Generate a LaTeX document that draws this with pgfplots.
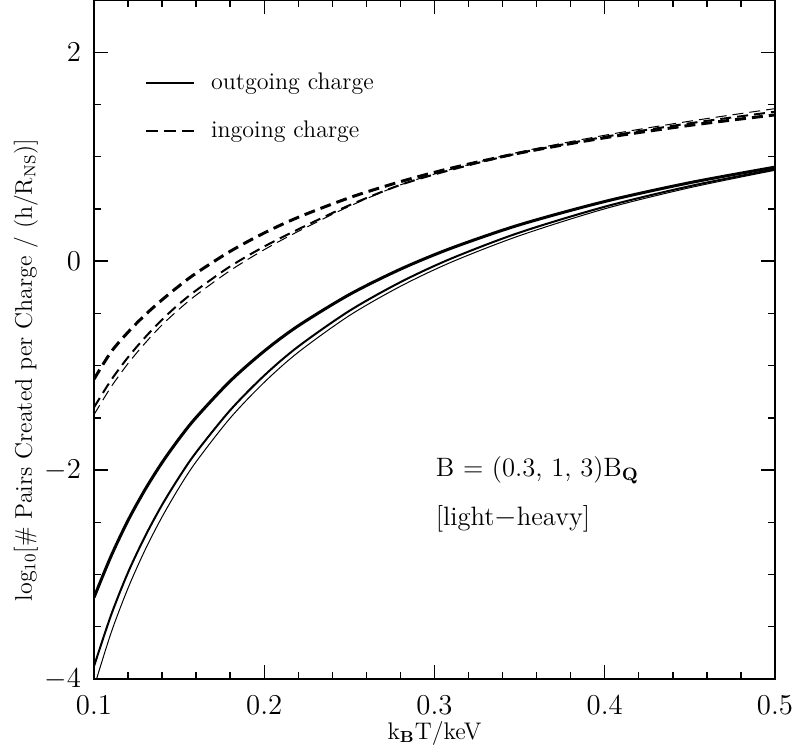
\documentclass[border=0pt]{standalone}
\usepackage{pgfplots}
\pgfplotsset{compat=1.18}
\pgfplotstableread{
x y
0.10 -3.220
0.11 -2.825
0.12 -2.482
0.13 -2.187
0.14 -1.928
0.15 -1.700
0.16 -1.496
0.18 -1.148
0.20 -0.861
0.22 -0.619
0.25 -0.320
0.28 -0.077
0.31 0.125
0.35 0.348
0.40 0.571
0.45 0.751
0.50 0.900
}\solidA
\pgfplotstableread{
x y
0.10 -3.879
0.11 -3.390
0.12 -2.980
0.13 -2.635
0.14 -2.333
0.15 -2.068
0.16 -1.830
0.18 -1.427
0.20 -1.095
0.22 -0.817
0.25 -0.476
0.28 -0.201
0.31 0.026
0.35 0.274
0.40 0.521
0.45 0.718
0.50 0.880
}\solidB
\pgfplotstableread{
x y
0.10 -4.080
0.11 -3.560
0.12 -3.130
0.13 -2.765
0.14 -2.448
0.15 -2.168
0.16 -1.920
0.18 -1.502
0.20 -1.160
0.22 -0.872
0.25 -0.521
0.28 -0.241
0.31 -0.009
0.35 0.244
0.40 0.501
0.45 0.703
0.50 0.870
}\solidC
\pgfplotstableread{
x y
0.10 -1.130
0.11 -0.870
0.12 -0.680
0.13 -0.515
0.14 -0.370
0.15 -0.237
0.16 -0.115
0.18 0.094
0.20 0.270
0.22 0.420
0.25 0.607
0.28 0.761
0.31 0.891
0.35 1.035
0.40 1.181
0.45 1.300
0.50 1.400
}\dashA
\pgfplotstableread{
x y
0.10 -1.400
0.11 -1.140
0.12 -0.920
0.13 -0.730
0.14 -0.560
0.15 -0.410
0.16 -0.280
0.18 -0.050
0.20 0.140
0.22 0.305
0.25 0.535
0.28 0.730
0.31 0.875
0.35 1.035
0.40 1.190
0.45 1.320
0.50 1.430
}\dashB
\pgfplotstableread{
x y
0.10 -1.470
0.11 -1.205
0.12 -0.980
0.13 -0.785
0.14 -0.610
0.15 -0.460
0.16 -0.325
0.18 -0.090
0.20 0.110
0.22 0.285
0.25 0.525
0.28 0.730
0.31 0.880
0.35 1.045
0.40 1.205
0.45 1.340
0.50 1.460
}\dashC
\begin{document}
\begin{tikzpicture}
\begin{axis}[
  name=ax,
  scale only axis, width=340.5pt, height=339.5pt,
  xmin=0.1, xmax=0.5, ymin=-4, ymax=2.5,
  xtick={0.1,0.2,0.3,0.4,0.5}, xticklabels={0.1,0.2,0.3,0.4,0.5},
  ytick={-4,-2,0,2},
  minor x tick num=4, minor y tick num=3,
  tick align=inside, tick pos=both,
  major tick length=7pt, minor tick length=3.5pt,
  axis line style={line width=1pt},
  every tick/.style={black, line width=0.7pt},
  ticklabel style={font=\Large},
  xticklabel style={yshift=-4.5pt},
  yticklabel style={xshift=-3pt},
  xlabel={k$_{\mathbf{B}}$T/keV},
  ylabel={log$_{10}$[\# Pairs Created per Charge / (h/R$_{\mathrm{NS}}$)]},
  label style={font=\large},
  xlabel style={at={(axis description cs:0.5,-0.080)}, anchor=center},
  ylabel style={at={(axis description cs:-0.100,0.455)}, anchor=center},
  legend style={draw=none, fill=none, at={(axis cs:0.1298,1.84)}, anchor=north west,
    font=\large, row sep=10pt, inner sep=0pt},
  legend cell align=left,
  legend image code/.code={\draw[#1, line width=1pt] (0pt,0pt) -- (24pt,0pt);},
]
\addplot[black, line width=1.5pt, smooth, forget plot] table {\solidA};
\addplot[black, line width=1.0pt, smooth, forget plot] table {\solidB};
\addplot[black, line width=0.5pt, smooth, forget plot] table {\solidC};
\addplot[black, line width=1.5pt, smooth, dash pattern=on 5.5pt off 3pt, forget plot] table {\dashA};
\addplot[black, line width=1.0pt, smooth, dash pattern=on 5.5pt off 3pt, forget plot] table {\dashB};
\addplot[black, line width=0.5pt, smooth, dash pattern=on 5.5pt off 3pt, forget plot] table {\dashC};
\addlegendimage{black, solid}
\addlegendentry{\hspace*{6pt}outgoing charge}
\addlegendimage{black, dash pattern=on 6pt off 3pt}
\addlegendentry{\hspace*{6pt}ingoing charge}
\node[anchor=west, font=\fontsize{13.3}{16}\selectfont, inner sep=0pt] at (axis cs:0.3006,-2.0) {B = (0.3,\ 1,\ 3)B$_{\mathbf{Q}}$};
\node[anchor=west, font=\fontsize{13.3}{16}\selectfont, inner sep=0pt] at (axis cs:0.3006,-2.47) {[light$-$heavy]};
\end{axis}
\pgfresetboundingbox
\path (ax.south west) ++(-47pt,-35.5pt) coordinate (bl);
\path (ax.north east) ++(9pt,0pt) coordinate (tr);
\useasboundingbox (bl) rectangle (tr);
\end{tikzpicture}
\end{document}
